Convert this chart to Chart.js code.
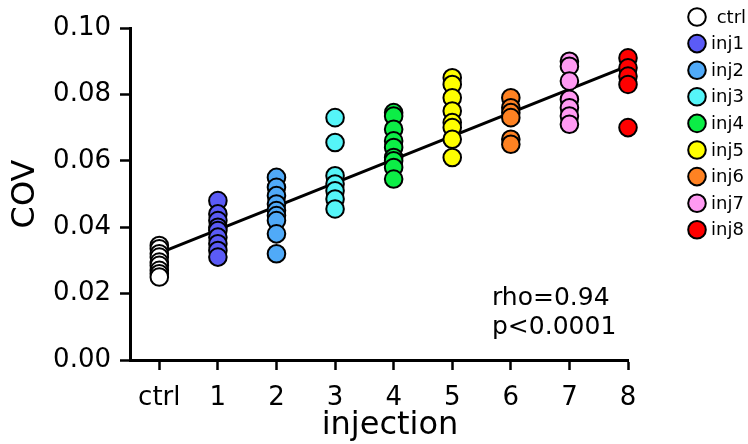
<!DOCTYPE html>
<html>
<head>
<meta charset="utf-8">
<script src="https://cdn.jsdelivr.net/npm/chart.js@4.4.1/dist/chart.umd.min.js"></script>
<style>
  body { margin: 0; background: #fff; }
  #wrap { width: 748px; height: 444px; }
</style>
</head>
<body>
<div id="wrap"><canvas id="covChart"></canvas></div>
<script>
// --- data ---
const tickLabels = ['ctrl', '1', '2', '3', '4', '5', '6', '7', '8'];
const seriesNames = [' ctrl', 'inj1', 'inj2', 'inj3', 'inj4', 'inj5', 'inj6', 'inj7', 'inj8'];
const seriesColors = ['#ffffff', '#5b5bf6', '#50aaf8', '#55f5f8', '#0cee46', '#ffff00', '#ff8222', '#ff9af2', '#ff0000'];
const yTicks = [0, 0.02, 0.04, 0.06, 0.08, 0.10];

const ctrlCov = [0.0345, 0.0335, 0.032, 0.031, 0.0295, 0.0285, 0.027, 0.026, 0.025];
const inj1Cov = [0.048, 0.044, 0.042, 0.040, 0.039, 0.037, 0.035, 0.033, 0.031];
const inj2Cov = [0.055, 0.052, 0.0495, 0.047, 0.045, 0.0435, 0.042, 0.038, 0.032];
const inj3Cov = [0.073, 0.0655, 0.0555, 0.053, 0.051, 0.0485, 0.0455];
const inj4Cov = [0.0745, 0.0735, 0.0695, 0.066, 0.064, 0.061, 0.060, 0.058, 0.0545];
const inj5Cov = [0.085, 0.083, 0.079, 0.075, 0.0715, 0.070, 0.0665, 0.061];
const inj6Cov = [0.079, 0.076, 0.0745, 0.073, 0.0665, 0.065];
const inj7Cov = [0.090, 0.0885, 0.084, 0.0785, 0.076, 0.0735, 0.071];
const inj8Cov = [0.091, 0.088, 0.0855, 0.083, 0.070];

// regression line
const fitIntercept = 0.0322;
const fitSlope = 0.00705;

const groups = [ctrlCov, inj1Cov, inj2Cov, inj3Cov, inj4Cov, inj5Cov, inj6Cov, inj7Cov, inj8Cov];
const FONT = 'DejaVu Sans';

const scatterSets = groups.map((vals, i) => ({
    type: 'scatter',
    label: seriesNames[i],
    data: vals.map(v => ({ x: i, y: v })),
    backgroundColor: seriesColors[i],
    borderColor: '#000',
    borderWidth: 2,
    pointRadius: 8.8,
    pointHoverRadius: 8.8,
    order: 1,
    clip: false
}));

const fitLine = {
    type: 'line',
    label: 'fit',
    data: [0, 8].map(x => ({ x: x, y: fitIntercept + fitSlope * x })),
    borderColor: '#000',
    borderWidth: 3,
    pointRadius: 0,
    fill: false,
    order: 10
};

// legend + stats text + x title drawn on the canvas
const extras = {
    id: 'extras',
    afterDraw(chart) {
        const ctx = chart.ctx;
        ctx.save();
        ctx.textBaseline = 'middle';
        ctx.font = '18px "' + FONT + '"';
        seriesNames.forEach((name, i) => {
            const y = 17 + i * 26.6;
            ctx.beginPath();
            ctx.arc(697, y, 8.8, 0, Math.PI * 2);
            ctx.fillStyle = seriesColors[i];
            ctx.fill();
            ctx.lineWidth = 2;
            ctx.strokeStyle = '#000';
            ctx.stroke();
            ctx.fillStyle = '#000';
            ctx.textAlign = 'left';
            ctx.fillText(name, 711, y + 1);
        });
        ctx.textBaseline = 'alphabetic';
        ctx.font = '25px "' + FONT + '"';
        ctx.fillText('rho=0.94', 492, 305);
        ctx.fillText('p<0.0001', 492, 334);
        ctx.font = '32px "' + FONT + '"';
        ctx.textAlign = 'center';
        ctx.fillText('injection', 390, 434);
        ctx.restore();
    }
};

new Chart(document.getElementById('covChart'), {
    data: { datasets: [fitLine].concat(scatterSets) },
    options: {
        responsive: true,
        maintainAspectRatio: false,
        animation: false,
        layout: { padding: { top: 28, right: 120, left: 0, bottom: 0 } },
        scales: {
            x: {
                type: 'linear',
                min: -0.5,
                max: 8,
                afterFit: s => { s.height = 84; },
                afterBuildTicks: s => { s.ticks = tickLabels.map((t, i) => ({ value: i })); },
                ticks: {
                    callback: v => tickLabels[v],
                    color: '#000',
                    font: { family: FONT, size: 26 },
                    padding: 13,
                    maxRotation: 0
                },
                grid: { drawOnChartArea: false, tickLength: 10, tickWidth: 2.5, tickColor: '#000' },
                border: { display: true, color: '#000', width: 3 }
            },
            y: {
                min: 0,
                max: 0.10,
                afterFit: s => { s.width = 130; },
                afterBuildTicks: s => { s.ticks = yTicks.map(v => ({ value: v })); },
                ticks: {
                    callback: v => v.toFixed(2),
                    color: '#000',
                    font: { family: FONT, size: 26 },
                    padding: 9
                },
                grid: { drawOnChartArea: false, tickLength: 10, tickWidth: 2.5, tickColor: '#000' },
                border: { display: true, color: '#000', width: 3 },
                title: {
                    display: true,
                    text: 'COV',
                    color: '#000',
                    font: { family: FONT, size: 32 },
                    padding: { top: 6, bottom: 0 }
                }
            }
        },
        plugins: {
            legend: { display: false },
            tooltip: { enabled: false }
        }
    },
    plugins: [extras]
});
</script>
</body>
</html>
